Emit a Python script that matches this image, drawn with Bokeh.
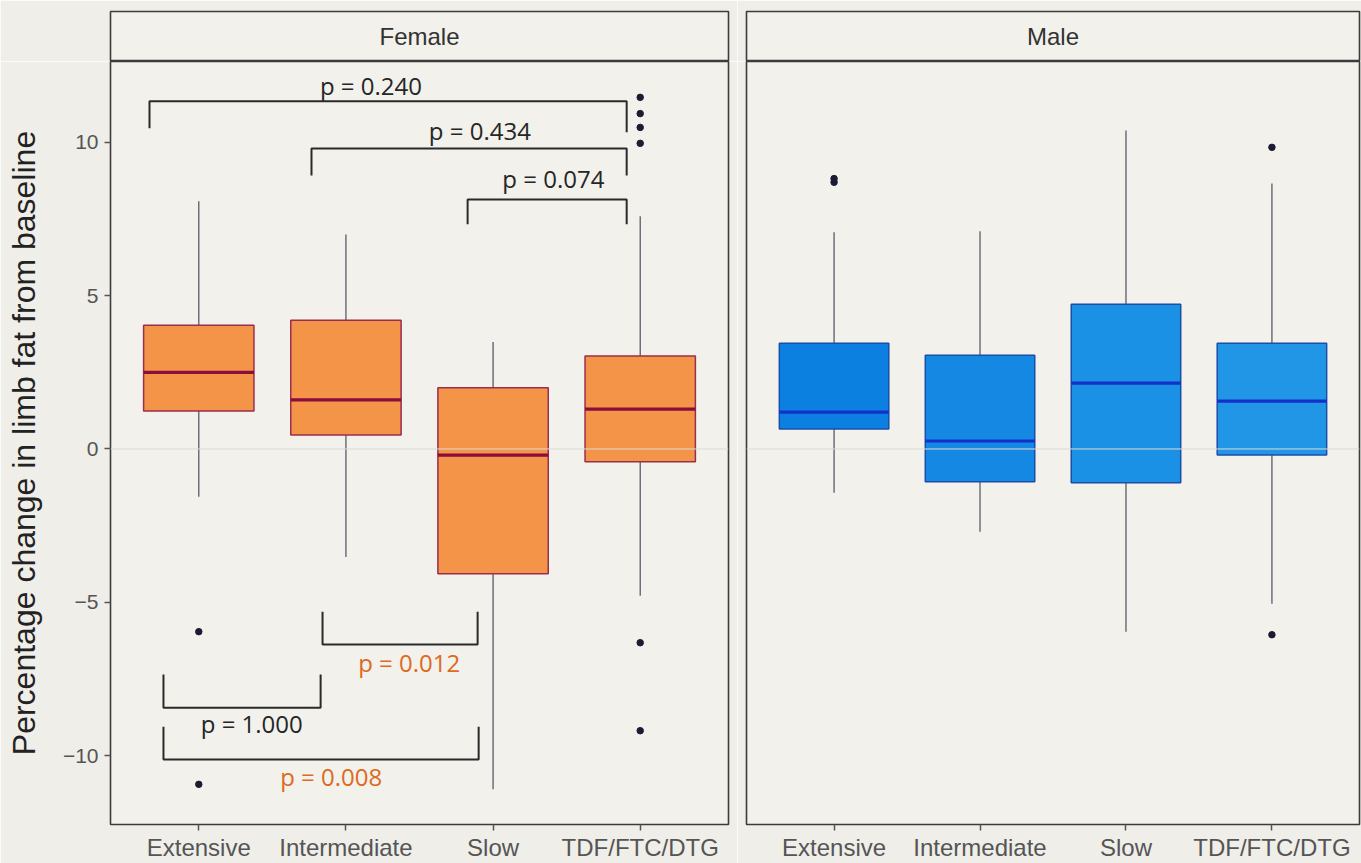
from bokeh.plotting import figure
from bokeh.layouts import column, row
from bokeh.models import Range1d, FixedTicker, Span, Label
from bokeh.embed import file_html
from bokeh.resources import INLINE

# ---------------- data ----------------
categories = ["Extensive", "Intermediate", "Slow", "TDF/FTC/DTG"]
panels = ["Female", "Male"]

female_upper = [8.08, 7.00, 3.49, 7.59]
female_q3 = [4.04, 4.20, 2.00, 3.03]
female_median = [2.50, 1.60, -0.20, 1.30]
female_q1 = [1.24, 0.46, -4.07, -0.42]
female_lower = [-1.56, -3.52, -11.10, -4.79]
female_outlier_cat = ["Extensive", "Extensive", "TDF/FTC/DTG", "TDF/FTC/DTG",
                      "TDF/FTC/DTG", "TDF/FTC/DTG", "TDF/FTC/DTG", "TDF/FTC/DTG"]
female_outlier_val = [-5.96, -10.94, 11.47, 10.94, 10.49, 9.97, -6.32, -9.19]

male_upper = [7.07, 7.10, 10.39, 8.66]
male_q3 = [3.45, 3.06, 4.72, 3.45]
male_median = [1.20, 0.26, 2.15, 1.56]
male_q1 = [0.65, -1.07, -1.10, -0.20]
male_lower = [-1.43, -2.70, -5.96, -5.05]
male_outlier_cat = ["Extensive", "Extensive", "TDF/FTC/DTG", "TDF/FTC/DTG"]
male_outlier_val = [8.70, 8.82, 9.84, -6.06]

y_ticks = [-10, -5, 0, 5, 10]

# pairwise comparisons (female panel)
comparisons = [
    ("Extensive", "TDF/FTC/DTG", "p = 0.240"),
    ("Intermediate", "TDF/FTC/DTG", "p = 0.434"),
    ("Slow", "TDF/FTC/DTG", "p = 0.074"),
    ("Intermediate", "Slow", "p = 0.012"),
    ("Extensive", "Intermediate", "p = 1.000"),
    ("Extensive", "Slow", "p = 0.008"),
]

# ---------------- styles / annotation geometry ----------------
BG = "#EFEEE9"
PANEL_BG = "#F2F1EC"
FRAME = "#3c3c3c"
female_style = dict(fill=["#F39449"] * 4, line="#9A2E4E", median="#8A0D3C")
male_style = dict(fill=["#0B80E0", "#1488E3", "#1B91E6", "#2196E6"],
                  line="#1a4fa8", median="#1530C8")
# bracket layout: (left offset, right offset, bar y, left tip y, right tip y,
#                  label x, label y, label colour)
bracket_layout = [
    (-0.335, -0.092, 11.34, 10.46, 10.33, 2.17, 11.85, "#262626"),
    (-0.234, -0.092, 9.80, 8.92, 8.92, 2.91, 10.38, "#262626"),
    (-0.173, -0.092, 8.14, 7.33, 7.33, 3.41, 8.83, "#262626"),
    (-0.159, -0.105, -6.38, -5.31, -5.31, 2.43, -6.95, "#DD6A1E"),
    (-0.240, -0.172, -8.44, -7.36, -7.36, 1.36, -8.95, "#262626"),
    (-0.240, -0.098, -10.13, -9.06, -9.06, 1.90, -10.70, "#DD6A1E"),
]

Y0, Y1 = -12.25, 12.64
X0, X1 = 0.4, 4.6
BOX_W = 0.75
FRAME_H = 764
TOP, STRIP_H, BOTTOM = 11, 50, 38
L_BORDER, GAP = 110, 9
L_W = L_BORDER + 618 + GAP
R_W = 1361 - L_W


def make_strip(text, width, left, right):
    s = figure(width=width, height=TOP + STRIP_H, x_range=Range1d(0, 1),
               y_range=Range1d(0, 1), toolbar_location=None, output_backend="svg",
               min_border_left=left, min_border_right=right,
               min_border_top=TOP, min_border_bottom=0,
               x_axis_location=None, y_axis_location=None)
    s.grid.visible = False
    s.background_fill_color = PANEL_BG
    s.border_fill_color = BG
    s.outline_line_color = FRAME
    s.outline_line_width = 1.6
    s.add_layout(Label(x=0.5, y=0.5, text=text, text_align="center",
                       text_baseline="middle", text_font="Liberation Sans",
                       text_font_size="24px", text_color="#333333"))
    return s


def make_panel(width, left, right, upper, q3, med, q1, lower, ocat, oval, style, show_y):
    p = figure(width=width, height=FRAME_H + BOTTOM, x_range=Range1d(X0, X1),
               y_range=Range1d(Y0, Y1), toolbar_location=None, output_backend="svg",
               min_border_left=left, min_border_right=right,
               min_border_top=0, min_border_bottom=BOTTOM,
               y_axis_location="left" if show_y else None)
    p.grid.visible = False
    p.background_fill_color = PANEL_BG
    p.border_fill_color = BG
    p.outline_line_color = FRAME
    p.outline_line_width = 1.6

    p.add_layout(Span(location=0, dimension="width", line_color="#DCDBD5", line_width=1))

    xs = [categories.index(c) + 1 for c in categories]
    # whiskers
    p.segment(x0=xs, x1=xs, y0=q3, y1=upper, line_color="#5b5b6b", line_width=1.3)
    p.segment(x0=xs, x1=xs, y0=q1, y1=lower, line_color="#5b5b6b", line_width=1.3)
    # boxes
    p.vbar(x=xs, width=BOX_W, top=q3, bottom=q1, fill_color=style["fill"],
           line_color=style["line"], line_width=1.5)
    # medians
    p.segment(x0=[x - BOX_W / 2 for x in xs], x1=[x + BOX_W / 2 for x in xs],
              y0=med, y1=med, line_color=style["median"], line_width=3.2)
    # outliers
    ox = [categories.index(c) + 1 for c in ocat]
    p.scatter(x=ox, y=oval, size=6.5, fill_color="#1b1b33", line_color="#1b1b33")

    xa = p.xaxis[0]
    xa.ticker = FixedTicker(ticks=xs)
    xa.major_label_overrides = {x: c for x, c in zip(xs, categories)}
    xa.major_label_text_font = "Liberation Sans"
    xa.major_label_text_font_size = "24px"
    xa.major_label_text_color = "#555555"
    xa.major_label_standoff = 3
    xa.axis_line_color = None
    xa.major_tick_line_color = "#555555"
    xa.major_tick_line_width = 1.5
    xa.major_tick_out = 6
    xa.major_tick_in = 0
    xa.minor_tick_line_color = None

    if show_y:
        ya = p.yaxis[0]
        ya.ticker = FixedTicker(ticks=y_ticks)
        ya.major_label_overrides = {t: (str(t).replace("-", "\u2212")) for t in y_ticks}
        ya.major_label_text_font = "Liberation Sans"
        ya.major_label_text_font_size = "21px"
        ya.major_label_text_color = "#555555"
        ya.major_label_standoff = 6
        ya.axis_line_color = None
        ya.major_tick_line_color = "#555555"
        ya.major_tick_line_width = 1.5
        ya.major_tick_out = 6
        ya.major_tick_in = 0
        ya.minor_tick_line_color = None
        ya.axis_label = "Percentage change in limb fat from baseline"
        ya.axis_label_text_font = "Liberation Sans"
        ya.axis_label_text_font_size = "32px"
        ya.axis_label_text_font_style = "normal"
        ya.axis_label_text_color = "#222222"
        ya.axis_label_standoff = 18
    return p


s1 = make_strip(panels[0], L_W, L_BORDER, GAP)
s2 = make_strip(panels[1], R_W, GAP, 2)

p1 = make_panel(L_W, L_BORDER, GAP, female_upper, female_q3, female_median, female_q1,
                female_lower, female_outlier_cat, female_outlier_val, female_style, True)
p2 = make_panel(R_W, GAP, 2, male_upper, male_q3, male_median, male_q1,
                male_lower, male_outlier_cat, male_outlier_val, male_style, False)

# significance brackets on the female panel
for (a, b, txt), (oa, ob, yb, ta, tb, lx, ly, col) in zip(comparisons, bracket_layout):
    xa_ = categories.index(a) + 1 + oa
    xb_ = categories.index(b) + 1 + ob
    p1.line(x=[xa_, xa_, xb_, xb_], y=[ta, yb, yb, tb], line_color="#2a2a2a",
            line_width=2)
    p1.add_layout(Label(x=lx, y=ly, text=txt, text_align="center",
                        text_baseline="middle", text_font="Open Sans",
                        text_font_size="24px", text_color=col))

layout = column(row(s1, s2), row(p1, p2))
html = file_html(layout, INLINE, title="limb fat")
html = html.replace("<body>", '<body style="background-color:%s;">' % BG, 1)
open("out.html", "w").write(html)
